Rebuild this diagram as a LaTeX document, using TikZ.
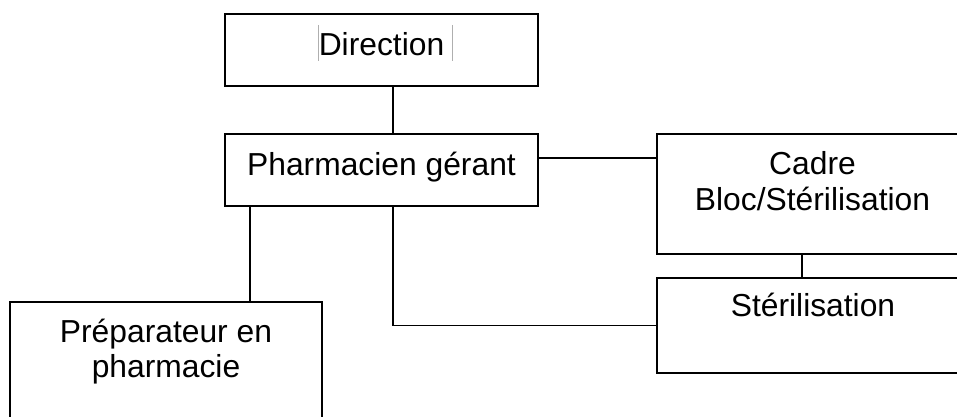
\documentclass[tikz,border=0pt]{standalone}
\usepackage{fontspec}
\setmainfont{Liberation Sans}
\definecolor{markgray}{RGB}{175,175,175}
\begin{document}
\begin{tikzpicture}[x=1pt,y=1pt,
  box/.style={draw=black,line width=1.9pt,rectangle,inner sep=0pt},
  txt/.style={font=\fontsize{31.8}{36.5}\selectfont,inner sep=0pt,anchor=base,align=center},
  conn/.style={draw=black,line width=1.9pt},
  greymark/.style={draw=markgray,line width=0.8pt}]
\useasboundingbox (0,0) rectangle (957,-417);
\clip (0,0) rectangle (957,-417);
% boxes
\node[box,minimum width=313,minimum height=72] (dir) at (381.5,-50) {};
\node[box,minimum width=313,minimum height=72] (pg) at (381.5,-170) {};
\node[box,minimum width=320,minimum height=120] (cadre) at (817,-194) {};
\node[box,minimum width=320,minimum height=95] (ster) at (817,-325.5) {};
\node[box,minimum width=312,minimum height=140] (prep) at (166,-372) {};
% texts
\node[txt] (tdir) at (381.5,-55.5) {Direction};
\node[txt] (tpg) at (381.5,-175) {Pharmacien gérant};
\node[txt] (tcadre) at (812.5,-210.7) {Cadre\\Bloc/Stérilisation};
\node[txt] (tster) at (813,-316.7) {Stérilisation};
\node[txt,font=\fontsize{31.8}{35}\selectfont] (tprep) at (166,-377) {Préparateur en\\pharmacie};
% text boundary marks
\coordinate (m1a) at (318.7,-25); \coordinate (m1b) at (318.7,-61.5);
\coordinate (m2a) at (452.3,-25); \coordinate (m2b) at (452.3,-61.5);
\draw[greymark] (m1a) -- (m1b);
\draw[greymark] (m2a) -- (m2b);
% connector guides
\coordinate (xa) at (393,0);
\coordinate (xb) at (250,0);
\coordinate (xc) at (802,0);
\coordinate (yr) at (0,-158);
% connectors
\draw[conn] (dir.south -| xa) -- (pg.north -| xa);
\draw[conn] (pg.east |- yr) -- (cadre.west |- yr);
\draw[conn] (cadre.south -| xc) -- (ster.north -| xc);
\draw[conn] (pg.south -| xa) |- (ster.west);
\draw[conn] (pg.south -| xb) -- (prep.north -| xb);
\end{tikzpicture}
\end{document}
